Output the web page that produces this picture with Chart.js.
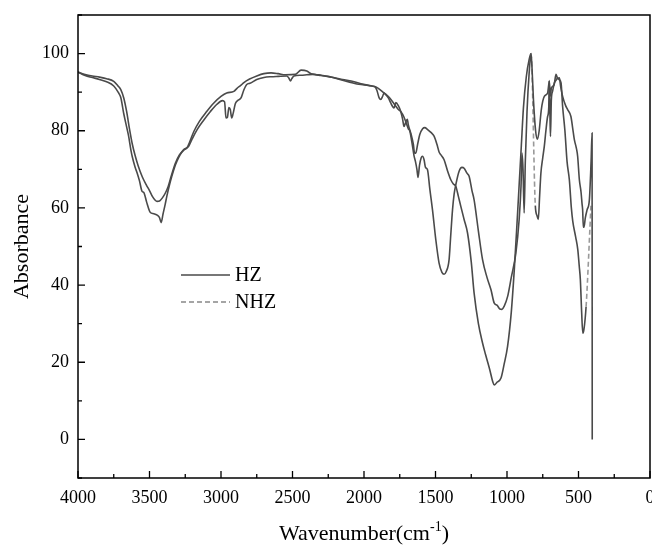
<!DOCTYPE html>
<html>
<head>
<meta charset="utf-8">
<script src="https://cdn.jsdelivr.net/npm/chart.js@4.4.1/dist/chart.umd.min.js"></script>
<style>
  body { margin: 0; background: #fff; }
  #wrap { width: 652px; height: 547px; }
</style>
</head>
<body>
<div id="wrap"><canvas id="ftir" width="652" height="547"></canvas></div>
<script>
// Spektren (Wellenzahl in cm-1, Absorbance)
const hzWave = [4000, 3950, 3900, 3850, 3800, 3750, 3720, 3700, 3680, 3660, 3640, 3620, 3600, 3580, 3550, 3520, 3500, 3480, 3460, 3447, 3430, 3410, 3390, 3370, 3350, 3320, 3290, 3260, 3237, 3220, 3190, 3150, 3100, 3050, 3000, 2960, 2910, 2888, 2860, 2840, 2800, 2750, 2700, 2650, 2600, 2550, 2480, 2440, 2400, 2370, 2340, 2300, 2250, 2200, 2150, 2100, 2050, 2000, 1950, 1920, 1900, 1860, 1850, 1820, 1800, 1780, 1760, 1743, 1720, 1700, 1690, 1680, 1665, 1650, 1640, 1630, 1622, 1612, 1600, 1591, 1580, 1570, 1556, 1540, 1521, 1498, 1475, 1455, 1440, 1425, 1405, 1395, 1381, 1370, 1358, 1335, 1315, 1300, 1280, 1265, 1245, 1230, 1200, 1171, 1140, 1112, 1089, 1070, 1050, 1035, 1020, 996, 970, 938, 915, 902, 895, 888, 880, 872, 860, 845, 832, 826, 815, 800, 787, 775, 760, 739, 716, 704, 697, 690, 680, 670, 657, 645, 634, 625, 611, 590, 576, 553, 540, 529, 515, 506, 494, 482, 475, 471, 466, 462, 452, 440, 424, 412, 405, 404];
const hzAbs = [95.2, 94.6, 94.2, 93.9, 93.5, 92.8, 91.6, 90.6, 88.5, 85, 80.5, 76.5, 73.5, 71, 68, 65.8, 64.5, 63, 62, 61.7, 61.8, 62.6, 63.8, 65.5, 68, 71.5, 73.8, 75, 75.6, 77, 79.8, 82.5, 85, 87.2, 88.9, 89.8, 90.2, 91, 91.8, 92.5, 93.4, 94.2, 94.8, 95, 94.8, 94.5, 94.6, 95.7, 95.5, 94.8, 94.6, 94.4, 94.1, 93.6, 93.1, 92.6, 92.1, 91.9, 91.6, 91.4, 91, 89.8, 89.5, 88.5, 87.5, 86.5, 85.5, 85, 83.5, 81.5, 80.5, 80, 77, 73.5, 72, 70, 67.9, 71, 73, 73.4, 72.5, 70.5, 69.9, 65, 59.5, 51.8, 45.7, 43.3, 42.8, 43.5, 46.6, 52, 59.5, 63.5, 66, 69.5, 70.5, 70.3, 69, 68.2, 64.5, 62.1, 54, 46.6, 42, 38.8, 35.3, 34.8, 33.8, 33.7, 34.5, 37, 42, 48.3, 57, 65.6, 74.2, 70, 58.7, 72, 85, 95, 100, 97, 88, 80, 77.8, 80, 85.5, 88.9, 89.8, 92.8, 89, 91, 91.5, 92, 94.6, 93.5, 93.7, 91.5, 88.9, 86.5, 85.5, 83.7, 80.5, 77.7, 75.5, 73.4, 67.3, 64, 61, 59.5, 55, 55, 57.5, 59.5, 62.1, 72, 79.4, 0];

const nhzWave = [4000, 3950, 3900, 3850, 3800, 3750, 3716, 3700, 3681, 3660, 3646, 3630, 3620, 3600, 3587, 3570, 3552, 3540, 3520, 3500, 3494, 3470, 3449, 3430, 3419, 3405, 3390, 3379, 3360, 3344, 3325, 3308, 3285, 3261, 3226, 3200, 3167, 3120, 3074, 3030, 2990, 2975, 2965, 2955, 2945, 2935, 2925, 2915, 2900, 2884, 2860, 2841, 2820, 2797, 2750, 2700, 2651, 2600, 2540, 2525, 2514, 2505, 2490, 2440, 2400, 2360, 2300, 2214, 2150, 2069, 2010, 1960, 1923, 1910, 1894, 1883, 1870, 1860, 1850, 1830, 1813, 1800, 1790, 1777, 1760, 1743, 1730, 1720, 1710, 1697, 1690, 1670, 1655, 1646, 1638, 1625, 1610, 1590, 1575, 1555, 1530, 1510, 1490, 1475, 1463, 1440, 1415, 1393, 1375, 1358, 1340, 1323, 1300, 1276, 1250, 1230, 1200, 1171, 1150, 1120, 1100, 1089, 1070, 1042, 1020, 996, 970, 949, 930, 915, 900, 885, 865, 845, 832, 802, 790, 781, 772, 763, 750, 739, 728, 716, 708, 705, 700, 696, 690, 681, 669, 655, 646, 634, 622, 611, 595, 580, 564, 550, 540, 520, 505, 495, 487, 478, 470, 462, 447, 412];
const nhzAbs = [95.2, 94.3, 93.8, 93.3, 92.7, 91.6, 89.8, 88.5, 84.6, 81, 78.6, 75, 73.2, 70.5, 69.1, 67, 64.3, 64, 61.5, 59.2, 58.8, 58.5, 58.2, 57.5, 56.2, 58.5, 61, 63, 66, 68.2, 70.5, 72.1, 73.8, 75.1, 76, 78, 80.3, 82.8, 85, 86.8, 87.8, 87.5, 83.3, 83.5, 86, 85.5, 83.3, 84.5, 87, 87.8, 88.5, 90.5, 92, 92.3, 93.3, 93.8, 94, 94.1, 94.2, 93.6, 92.9, 93.5, 94.2, 94.4, 94.5, 94.6, 94.3, 93.8, 93.3, 92.7, 92.1, 91.7, 91.4, 90.5, 88.5, 88.1, 88.9, 89.8, 89.5, 88.5, 87.2, 86.3, 85.9, 87.3, 86.5, 85, 83, 81.1, 82, 83, 81.5, 79, 76.5, 74.2, 74.2, 76.5, 79, 80.5, 80.8, 80.3, 79.5, 78.6, 76.5, 74.5, 73.8, 72.5, 69.5, 67.3, 66.2, 65.6, 63, 60.4, 57, 53.5, 46, 37.9, 30, 25, 22, 18, 15, 14.1, 14.8, 15.9, 19.5, 24.1, 33, 44, 56, 66, 76, 86, 94, 98.5, 100, 60.6, 58, 57, 63, 69, 73, 76, 80, 83.7, 86, 93, 85, 78.5, 88, 90.3, 92.4, 93.2, 93.7, 93.2, 92.4, 86.3, 80, 72, 67.3, 60, 56.5, 52.5, 49.2, 45, 41.4, 33, 27.5, 28.5, 34.4, 61.3];

const seriesNames = ['HZ', 'NHZ'];
const xTickStep = 500;
const yTickLabels = [0, 20, 40, 60, 80, 100];

const lineColor = '#4a4a4a';
const serif = '"Liberation Serif", "Times New Roman", serif';

function toPoints(w, a) {
    return w.map((x, i) => ({ x: x, y: a[i] }));
}

// Rahmen, Ticks nach innen, Achsentitel und Legende
const decorPlugin = {
    id: 'decor',
    afterDraw(chart) {
        const ctx = chart.ctx;
        const area = chart.chartArea;
        const xs = chart.scales.x;
        const ys = chart.scales.y;
        ctx.save();
        ctx.strokeStyle = '#000';
        ctx.lineWidth = 1.5;
        ctx.strokeRect(area.left, area.top, area.right - area.left, area.bottom - area.top);

        ctx.lineWidth = 1.3;
        ctx.beginPath();
        for (let w = 0; w <= 4000; w += 250) {
            const px = xs.getPixelForValue(w);
            const len = (w % 500 === 0) ? 7 : 4;
            ctx.moveTo(px, area.bottom);
            ctx.lineTo(px, area.bottom - len);
        }
        for (let v = -10; v <= 110; v += 10) {
            const py = ys.getPixelForValue(v);
            const len = (v % 20 === 0) ? 7 : 4;
            ctx.moveTo(area.left, py);
            ctx.lineTo(area.left + len, py);
        }
        ctx.stroke();

        // y-Titel
        ctx.fillStyle = '#000';
        ctx.font = '22px ' + serif;
        ctx.textAlign = 'center';
        ctx.textBaseline = 'middle';
        ctx.save();
        ctx.translate(22, (area.top + area.bottom) / 2);
        ctx.rotate(-Math.PI / 2);
        ctx.fillText('Absorbance', 0, 0);
        ctx.restore();

        // x-Titel mit Hochstellung
        const main = 'Wavenumber(cm';
        const sup = '-1';
        const close = ')';
        ctx.font = '22px ' + serif;
        const wMain = ctx.measureText(main).width;
        const wClose = ctx.measureText(close).width;
        ctx.font = '14px ' + serif;
        const wSup = ctx.measureText(sup).width;
        const cx = (area.left + area.right) / 2;
        let tx = cx - (wMain + wSup + wClose) / 2;
        const ty = 533;
        ctx.textAlign = 'left';
        ctx.textBaseline = 'alphabetic';
        ctx.font = '22px ' + serif;
        ctx.fillText(main, tx, ty + 7);
        tx += wMain;
        ctx.font = '14px ' + serif;
        ctx.fillText(sup, tx, ty - 2);
        tx += wSup;
        ctx.font = '22px ' + serif;
        ctx.fillText(close, tx, ty + 7);

        // Legende
        const legY = [275, 302];
        const dashes = [[], [5, 3]];
        ctx.font = '20px ' + serif;
        ctx.textBaseline = 'middle';
        seriesNames.forEach((name, i) => {
            ctx.strokeStyle = i === 0 ? lineColor : '#888';
            ctx.lineWidth = 1.3;
            ctx.setLineDash(dashes[i]);
            ctx.beginPath();
            ctx.moveTo(181, legY[i]);
            ctx.lineTo(230, legY[i]);
            ctx.stroke();
            ctx.setLineDash([]);
            ctx.fillText(name, 235, legY[i] + 1);
        });
        ctx.restore();
    }
};

new Chart(document.getElementById('ftir'), {
    type: 'line',
    data: {
        datasets: [
            {
                label: seriesNames[0],
                data: toPoints(hzWave, hzAbs),
                borderColor: lineColor,
                borderWidth: 1.6,
                pointRadius: 0,
                cubicInterpolationMode: 'monotone',
                fill: false
            },
            {
                label: seriesNames[1],
                data: toPoints(nhzWave, nhzAbs),
                borderColor: lineColor,
                borderWidth: 1.6,
                pointRadius: 0,
                cubicInterpolationMode: 'monotone',
                fill: false,
                // lange, steile Stuecke gestrichelt wie im Original
                segment: {
                    borderDash: c => Math.abs(c.p1.y - c.p0.y) > 90 ? [5, 3] : undefined,
                    borderColor: c => Math.abs(c.p1.y - c.p0.y) > 90 ? '#999' : undefined
                }
            }
        ]
    },
    options: {
        responsive: false,
        animation: false,
        layout: { padding: { top: 15, right: 2, left: 0, bottom: 0 } },
        plugins: { legend: { display: false }, tooltip: { enabled: false } },
        scales: {
            x: {
                type: 'linear',
                reverse: true,
                min: 0,
                max: 4000,
                border: { display: false },
                grid: { display: false, drawTicks: false },
                ticks: {
                    stepSize: xTickStep,
                    padding: 9,
                    color: '#000',
                    font: { family: serif, size: 18 },
                    maxRotation: 0,
                    callback: v => String(v)
                },
                afterFit(s) { s.height = 69; s.paddingLeft = 0; s.paddingRight = 0; }
            },
            y: {
                min: -10,
                max: 110,
                border: { display: false },
                grid: { display: false, drawTicks: false },
                ticks: {
                    stepSize: 10,
                    padding: 9,
                    color: '#000',
                    font: { family: serif, size: 18 },
                    callback: v => yTickLabels.includes(v) ? String(v) : ''
                },
                afterFit(s) { s.width = 78; s.paddingTop = 0; s.paddingBottom = 0; }
            }
        }
    },
    plugins: [decorPlugin]
});
</script>
</body>
</html>
